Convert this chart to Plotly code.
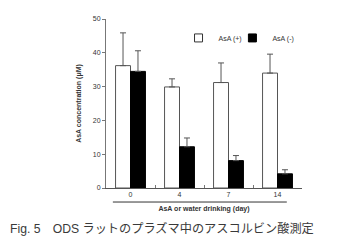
import plotly.graph_objects as go

days = ["0", "4", "7", "14"]
asa_plus = [36.2, 29.9, 31.2, 34.0]
asa_plus_err = [9.7, 2.4, 5.8, 5.6]
asa_minus = [34.5, 12.2, 8.1, 4.2]
asa_minus_err = [6.1, 2.6, 1.5, 1.2]
y_ticks = [0, 10, 20, 30, 40, 50]

font = "Liberation Sans, Arial, sans-serif"

fig = go.Figure()
fig.add_trace(go.Bar(
    x=days, y=asa_plus, name="AsA (+)", showlegend=False,
    marker=dict(color="white", line=dict(color="#555", width=1)),
    error_y=dict(type="data", symmetric=False, array=asa_plus_err,
                 arrayminus=[0] * len(days), color="#555", thickness=1, width=3),
))
fig.add_trace(go.Bar(
    x=days, y=asa_minus, name="AsA (-)", showlegend=False,
    marker=dict(color="black", line=dict(color="black", width=1)),
    error_y=dict(type="data", symmetric=False, array=asa_minus_err,
                 arrayminus=[0] * len(days), color="#555", thickness=1, width=3),
))
# legend entries with small square symbols
fig.add_trace(go.Scatter(
    x=[None], y=[None], mode="markers", name="AsA (+)", legend="legend",
    marker=dict(symbol="square", size=8, color="white", line=dict(color="#333", width=1)),
))
fig.add_trace(go.Scatter(
    x=[None], y=[None], mode="markers", name="AsA (-)", legend="legend2",
    marker=dict(symbol="square", size=8, color="black", line=dict(color="black", width=1)),
))

leg_common = dict(orientation="h", xanchor="left", yanchor="middle",
                  font=dict(size=7, color="#333"), bgcolor="rgba(0,0,0,0)", itemwidth=30)

fig.update_layout(
    width=342, height=243,
    margin=dict(l=98, r=48, t=11, b=63, autoexpand=False),
    paper_bgcolor="white", plot_bgcolor="white",
    barmode="group", bargap=0.39, bargroupgap=0,
    font=dict(family=font, size=7, color="#333"),
    showlegend=True,
    legend=dict(x=0.37, y=0.888, **leg_common),
    legend2=dict(x=0.645, y=0.888, **leg_common),
    xaxis=dict(
        showline=True, linecolor="#555", linewidth=1, automargin=False,
        ticks="inside", tickson="boundaries", ticklen=3, tickcolor="#777",
        range=[-0.5, 3.5], showgrid=False, zeroline=False,
        tickfont=dict(size=7, color="#333"),
        title=dict(text="<b>AsA or water drinking (day)</b>", font=dict(size=7, color="#333"), standoff=8),
    ),
    yaxis=dict(
        range=[0, 50], tickvals=y_ticks, showline=True, linecolor="#777", linewidth=1,
        automargin=False,
        ticks="outside", ticklen=3, tickcolor="#777", showgrid=False, zeroline=False,
        tickfont=dict(size=7, color="#333"),
        title=dict(text="<b>AsA concentration (μM)</b>", font=dict(size=7, color="#333"), standoff=10),
    ),
)

fig.add_shape(type="line", xref="x", yref="paper", x0=-0.36, x1=3.19, y0=-0.083, y1=-0.083,
              line=dict(color="#333", width=1))

fig.add_annotation(
    text="Fig. 5　ODS ラットのプラズマ中のアスコルビン酸測定",
    xref="paper", yref="paper", x=-0.5, y=-0.237, xanchor="left", yanchor="middle",
    showarrow=False,
    font=dict(family="Liberation Sans, Noto Sans CJK JP, sans-serif", size=12.2, color="#3a3a3a"),
)

fig.write_html("out.html")
